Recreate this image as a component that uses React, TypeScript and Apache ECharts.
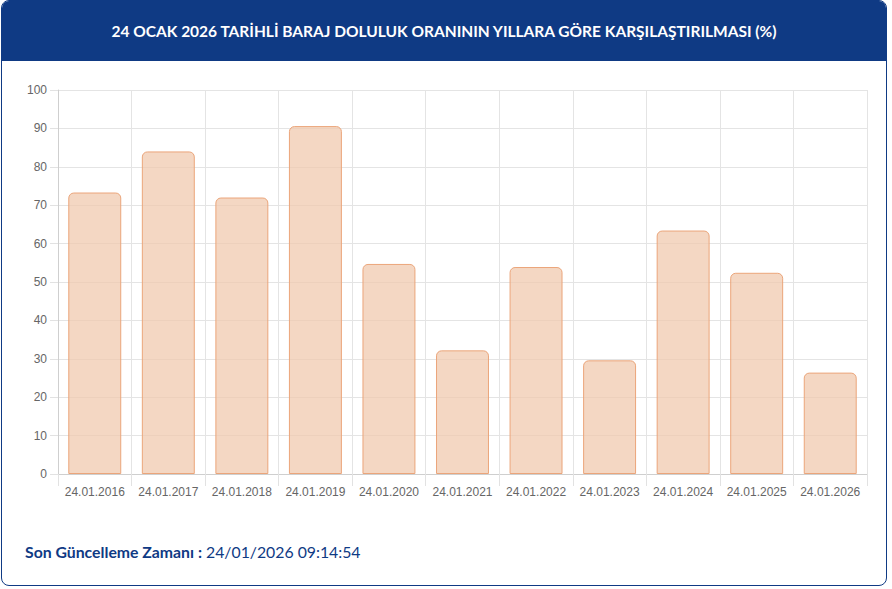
import React, { useEffect, useRef } from "react";
import * as echarts from "echarts";

const categories = [
  "24.01.2016", "24.01.2017", "24.01.2018", "24.01.2019", "24.01.2020", "24.01.2021",
  "24.01.2022", "24.01.2023", "24.01.2024", "24.01.2025", "24.01.2026",
];
const values = [73.3, 84.0, 72.0, 90.6, 54.7, 32.2, 53.9, 29.6, 63.4, 52.4, 26.4];
const yTicks = { min: 0, max: 100, interval: 10 };
const titleText = "24 OCAK 2026 TARİHLİ BARAJ DOLULUK ORANININ YILLARA GÖRE KARŞILAŞTIRILMASI (%)";
const footerLabel = "Son Güncelleme Zamanı :";
const footerValue = "24/01/2026 09:14:54";

const BLUE = "#0f3a84";

export default function App() {
  const ref = useRef<HTMLDivElement>(null);
  useEffect(() => {
    if (!ref.current) return;
    const chart = echarts.init(ref.current, null, { renderer: "svg" });
    chart.setOption({
      animation: false,
      grid: { left: 58, right: 25, top: 90, bottom: 115, containLabel: false },
      xAxis: {
        type: "category",
        data: categories,
        boundaryGap: true,
        axisLine: { show: true, lineStyle: { color: "#cfcfcf", width: 1 } },
        axisTick: { show: true, interval: 0, length: 12, lineStyle: { color: "#e2e2e2" } },
        axisLabel: { interval: 0, color: "#666", fontSize: 12, fontFamily: "Liberation Sans, Arial", margin: 12 },
        splitLine: { show: true, interval: 0, lineStyle: { color: "#e4e4e4" } },
      },
      yAxis: {
        type: "value",
        min: yTicks.min,
        max: yTicks.max,
        interval: yTicks.interval,
        axisLine: { show: true, lineStyle: { color: "#cfcfcf" } },
        axisTick: { show: true, length: 8, lineStyle: { color: "#e2e2e2" } },
        axisLabel: { color: "#666", fontSize: 12, fontFamily: "Liberation Sans, Arial", margin: 11 },
        splitLine: { show: true, lineStyle: { color: "#e4e4e4" } },
      },
      series: [
        {
          type: "bar",
          data: values,
          barCategoryGap: "28%",
          itemStyle: {
            color: "rgba(240, 200, 172, 0.72)",
            borderColor: "#eba57a",
            borderWidth: 1,
            borderRadius: [5, 5, 0, 0],
          },
        },
      ],
    });
    return () => chart.dispose();
  }, []);

  return (
    <div style={{ position: "fixed", left: 0, top: 0, width: 892, height: 589, background: "#fff" }}>
      <div
        style={{
          position: "absolute", left: 1, top: 0, width: 884, height: 584,
          border: `1px solid ${BLUE}`, borderRadius: 8, overflow: "hidden", background: "#fff",
        }}
      >
        <div
          style={{
            position: "absolute", left: 0, top: 0, width: "100%", height: 60, background: BLUE,
            color: "#fff", fontFamily: "Lato, 'Noto Sans', sans-serif", fontWeight: 700, fontSize: 15.5,
            display: "flex", alignItems: "center", justifyContent: "center",
          }}
        >
          {titleText}
        </div>
      </div>
      <div ref={ref} style={{ position: "absolute", left: 0, top: 0, width: 892, height: 589 }} />
      <div
        style={{
          position: "absolute", left: 25, top: 542, fontFamily: "Lato, 'Noto Sans', sans-serif",
          fontSize: 15.8, color: BLUE, whiteSpace: "nowrap",
        }}
      >
        <span style={{ fontWeight: 700 }}>{footerLabel}</span> <span>{footerValue}</span>
      </div>
    </div>
  );
}
